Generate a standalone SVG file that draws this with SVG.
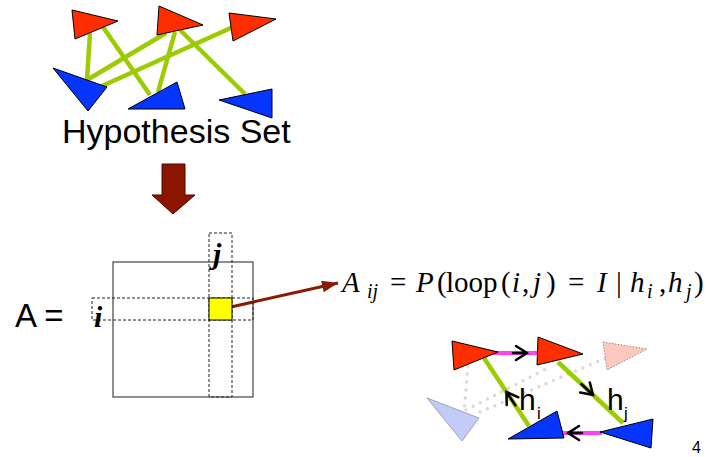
<svg xmlns="http://www.w3.org/2000/svg" width="707" height="457" viewBox="0 0 707 457">
<defs>
<style>
.red{fill:#ff2e00;stroke:#000;stroke-width:1;stroke-linejoin:miter}
.blue{fill:#0535ff;stroke:#000;stroke-width:1}
.fblue{fill:#c3cbf7;stroke:#8d93b0;stroke-width:0.8}
.fred{fill:#fdc9be;stroke:#777;stroke-width:0.8;stroke-dasharray:1.5 1.5}
.g{stroke:#9ccb00;stroke-width:4.5;stroke-linecap:butt;fill:none}
.m{stroke:#ff44ee;stroke-width:4;fill:none}
.dot{stroke:#dadada;stroke-width:3.5;stroke-linecap:round;stroke-dasharray:0 8;fill:none}
.chev{stroke:#000;stroke-width:2.5;fill:none;stroke-linecap:round;stroke-linejoin:miter}
.sans{font-family:"Liberation Sans",Arial,sans-serif;fill:#000}
.math{font-family:"Liberation Serif","Times New Roman",serif;font-size:29px;fill:#000}
.mi{font-style:italic}
.sub{font-size:20px;font-style:italic}
.dash{fill:none;stroke:#222;stroke-width:1;stroke-dasharray:3 2}
.idx{font-family:"Liberation Serif","Times New Roman",serif;font-style:italic;font-weight:bold;font-size:30px;fill:#000}
</style>
<marker id="rarrow" markerUnits="userSpaceOnUse" markerWidth="18" markerHeight="14" refX="16" refY="6" orient="auto">
<path d="M0,0 L16,6 L0,12 Z" fill="#8b1a00"/>
</marker>
</defs>
<rect width="707" height="457" fill="#fff"/>

<g id="connectors">
<line class="g" x1="90" y1="33" x2="87" y2="80"/>
<line class="g" x1="103" y1="27" x2="150" y2="95"/>
<line class="g" x1="87" y1="80" x2="166" y2="33"/>
<line class="g" x1="102" y1="86" x2="233" y2="27"/>
<line class="g" x1="175" y1="32" x2="158" y2="92"/>
<line class="g" x1="180" y1="30" x2="245" y2="94"/>
<line x1="222" y1="309" x2="338" y2="283" stroke="#8b1a00" stroke-width="3" marker-end="url(#rarrow)"/>
<line class="dot" x1="468" y1="366" x2="464" y2="412"/>
<line class="dot" x1="466" y1="410" x2="546" y2="369"/>
<line class="dot" x1="480" y1="412" x2="606" y2="358"/>
<line class="g" x1="484" y1="358" x2="529" y2="426"/>
<line class="g" x1="558" y1="362" x2="623" y2="423"/>
<line class="m" x1="493" y1="353" x2="538" y2="353"/>
<line class="m" x1="560" y1="433" x2="602" y2="433"/>
</g>

<g id="hyp-r1"><polygon class="red" points="72,10 118,21 75,39"/></g>
<g id="hyp-r2"><polygon class="red" points="159,6 203,25 157,35"/></g>
<g id="hyp-r3"><polygon class="red" points="229,13 276,19 233,41"/></g>
<g id="hyp-b1"><polygon class="blue" points="53,68 107,87 88,111"/></g>
<g id="hyp-b2"><polygon class="blue" points="128,109 177,82 185,109"/></g>
<g id="hyp-b3"><polygon class="blue" points="219,100 272,89 272,118"/></g>
<g id="hyp-label"><text class="sans" x="62" y="143" font-size="34">Hypothesis Set</text></g>

<g id="down-arrow"><polygon points="162,164 185,164 185,195 195,195 173,214 152,195 162,195" fill="#8b1500" stroke="#4a0a00" stroke-width="1"/></g>

<g id="matrix">
<text class="sans" x="15" y="327" font-size="33">A =</text>
<rect x="113" y="262" width="140" height="135" fill="none" stroke="#444" stroke-width="1.2"/>
<rect class="dash" x="209" y="233" width="23" height="164"/>
<rect class="dash" x="92" y="298" width="161" height="22"/>
<rect x="209" y="298" width="23" height="22" fill="#ffff00" stroke="#000" stroke-width="1"/>
<text class="idx" x="213" y="264">j</text>
<text class="idx" x="94" y="327">i</text>
</g>

<g id="formula">
<text class="math" y="292"><tspan class="mi" x="342">A</tspan><tspan class="sub" x="367" y="298">ij</tspan><tspan x="390" y="292">=</tspan><tspan class="mi" x="416">P</tspan><tspan x="437">(</tspan><tspan x="446">loop</tspan><tspan x="501">(</tspan><tspan class="mi" x="512">i</tspan><tspan x="522">,</tspan><tspan class="mi" x="533">j</tspan><tspan x="546">)</tspan><tspan x="568">=</tspan><tspan class="mi" x="597">I</tspan><tspan x="616">|</tspan><tspan class="mi" x="630">h</tspan><tspan class="sub" x="647" y="298">i</tspan><tspan x="659" y="292">,</tspan><tspan class="mi" x="668">h</tspan><tspan class="sub" x="686" y="298">j</tspan><tspan x="694" y="292">)</tspan></text>
</g>

<g id="loop-fd"><polygon class="fblue" points="427,398 479,418 462,441"/></g>
<g id="loop-fr"><polygon class="fred" points="603,342 647,349 607,370"/></g>
<g id="loop-ra"><polygon class="red" points="452,341 498,352 454,370"/></g>
<g id="loop-rb"><polygon class="red" points="538,337 583,354 537,365"/></g>
<g id="loop-be"><polygon class="blue" points="508,439 557,411 564,438"/></g>
<g id="loop-bf"><polygon class="blue" points="600,432 653,419 651,448"/></g>

<g id="loop-arrows">
<path class="chev" d="M513,353 L527,353 M516,346 L527,353 L516,360"/>
<path class="chev" d="M582,433 L568,433 M579,426 L568,433 L579,440"/>
<path class="chev" d="M515.3,405.3 L506.5,392 M518.4,397.3 L506.5,392 L506.7,405"/>
<path class="chev" d="M581.3,384 L593,395 M589.8,382.4 L593,395 L580.2,392.6"/>
</g>

<g id="loop-labels">
<text class="sans" x="519" y="410" font-size="30">h</text><text class="sans" x="537" y="419" font-size="17">i</text>
<text class="sans" x="607" y="410" font-size="30">h</text><text class="sans" x="624" y="419" font-size="17">j</text>
</g>

<text class="sans" x="692" y="453" font-size="16">4</text>
</svg>
